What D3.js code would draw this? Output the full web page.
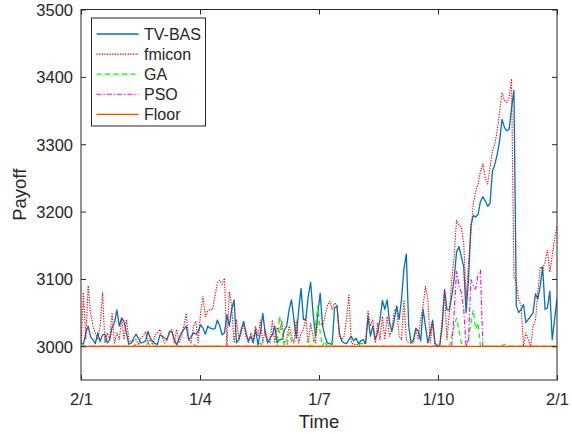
<!DOCTYPE html>
<html>
<head>
<meta charset="utf-8">
<script src="https://cdn.jsdelivr.net/npm/d3@7"></script>
<style>
  body { margin: 0; background: #fff; }
  svg text { font-family: "Liberation Sans", Arial, Helvetica, sans-serif; fill: #262626; }
</style>
</head>
<body>
<div id="chart"></div>
<script>
// daily payoff, one value per trading day (index 0..199)
var tvbas = [
3005,3003,3020,3030,3014,3010,3004,3020,3007,3017,
3018,3005,3010,3028,3035,3054,3030,3042,3037,3020,
3003,3005,3012,3018,3012,3005,3006,3008,3022,3012,
3007,3004,3003,3017,3015,3012,3010,3022,3022,3010,
3002,3012,3020,3025,3030,3010,3014,3020,3018,3022,
3032,3027,3018,3030,3027,3026,3026,3039,3030,3017,
3020,3047,3030,3055,3069,3005,3010,3025,3037,3020,
3008,3015,3005,3025,3002,3020,3049,3020,3005,3012,
3017,3030,3005,3010,3010,3024,3030,3054,3069,3040,
3012,3054,3086,3040,3040,3074,3095,3050,3015,3049,
3079,3030,3015,3005,3004,3003,3057,3060,3020,3008,
3005,3004,3010,3015,3008,3012,3004,3008,3010,3004,
3044,3015,3030,3010,3020,3040,3068,3055,3069,3035,
3022,3040,3060,3040,3070,3115,3137,3030,3005,3010,
3027,3022,3008,3055,3030,3005,3020,3039,3005,3000,
3002,3030,3084,3054,3054,3074,3100,3140,3148,3133,
3118,3050,3100,3180,3194,3192,3196,3215,3222,3216,
3208,3212,3260,3270,3285,3305,3337,3325,3320,3322,
3354,3380,3060,3050,3055,3062,3035,3040,3045,3050,
3078,3070,3090,3118,3055,3057,3082,3010,3040,3070
];
var fmicon = [
3000,3080,3010,3090,3050,3030,3020,3010,3030,3080,
3005,3020,3010,3050,3005,3020,3010,3042,3010,3040,
3010,3005,3008,3010,3002,3012,3015,3022,3005,3010,
3002,3017,3020,3025,3012,3005,3010,3020,3025,3005,
3025,3005,3015,3030,3049,3010,3005,3030,3037,3005,
3050,3074,3044,3052,3055,3054,3074,3094,3098,3092,
3101,3000,3081,3060,3005,3040,3010,3020,3034,3015,
3005,3020,3010,3030,3015,3039,3005,3025,3010,3005,
3039,3005,3028,3020,3037,3005,3010,3030,3015,3005,
3039,3005,3020,3025,3042,3005,3034,3015,3005,3037,
3035,3030,3045,3060,3067,3055,3064,3062,3015,3010,
3015,3040,3076,3005,3003,3002,3003,3005,3003,3005,
3052,3030,3040,3005,3035,3010,3044,3010,3044,3015,
3025,3054,3055,3015,3010,3069,3010,3005,3005,3005,
3025,3010,3040,3060,3089,3070,3005,3035,3000,3002,
3000,3040,3084,3010,3050,3099,3133,3187,3180,3177,
3153,3070,3123,3167,3212,3230,3241,3260,3271,3250,
3241,3265,3290,3300,3320,3347,3377,3365,3362,3369,
3397,3103,3095,3069,3060,3000,3020,3010,3000,3030,
3039,3080,3118,3115,3125,3143,3110,3135,3160,3177
];
var ga = [
3000,3000,3000,3000,3000,3000,3000,3000,3000,3000,
3000,3000,3000,3000,3000,3000,3000,3000,3000,3000,
3000,3000,3000,3003,3000,3000,3000,3000,3005,3000,
3000,3000,3000,3000,3000,3000,3000,3000,3000,3000,
3000,3000,3000,3000,3000,3000,3000,3004,3000,3000,
3000,3000,3000,3000,3000,3000,3000,3000,3000,3000,
3000,3000,3000,3000,3000,3000,3000,3000,3000,3000,
3000,3000,3000,3000,3000,3005,3000,3000,3000,3000,
3000,3000,3000,3045,3020,3000,3000,3020,3008,3000,
3000,3000,3000,3000,3000,3010,3000,3000,3030,3060,
3020,3000,3008,3000,3000,3008,3000,3000,3000,3000,
3000,3000,3000,3000,3000,3000,3000,3005,3000,3000,
3000,3000,3000,3000,3000,3000,3000,3000,3000,3000,
3000,3000,3000,3000,3000,3000,3000,3000,3000,3000,
3000,3000,3000,3000,3000,3000,3000,3000,3000,3000,
3000,3000,3000,3000,3000,3015,3030,3042,3025,3005,
3000,3000,3010,3035,3054,3025,3035,3000,3000,3000,
3000,3000,3000,3000,3000,3000,3000,3003,3000,3000,
3000,3000,3000,3000,3000,3000,3000,3000,3000,3000,
3000,3000,3000,3000,3000,3000,3000,3000,3000,3000
];
var pso = [
3000,3000,3000,3000,3000,3000,3000,3000,3000,3000,
3000,3000,3000,3000,3000,3000,3000,3000,3000,3000,
3000,3000,3000,3000,3000,3000,3000,3000,3000,3000,
3000,3000,3000,3000,3000,3000,3000,3000,3000,3000,
3000,3000,3000,3000,3000,3000,3000,3000,3000,3000,
3000,3000,3000,3000,3000,3000,3000,3000,3000,3000,
3000,3000,3000,3000,3000,3000,3000,3000,3000,3000,
3000,3000,3000,3000,3000,3000,3000,3000,3000,3000,
3000,3000,3000,3000,3000,3000,3000,3000,3000,3000,
3000,3000,3000,3000,3000,3000,3000,3000,3000,3000,
3000,3000,3000,3000,3000,3000,3000,3000,3000,3000,
3000,3000,3000,3000,3000,3000,3000,3000,3000,3000,
3000,3000,3000,3000,3000,3000,3000,3000,3000,3000,
3000,3000,3000,3000,3000,3000,3000,3000,3000,3000,
3000,3000,3000,3000,3000,3000,3000,3000,3000,3000,
3000,3000,3000,3000,3000,3000,3050,3111,3090,3080,
3055,3000,3010,3099,3090,3085,3106,3113,3000,3000,
3000,3000,3000,3000,3000,3000,3000,3000,3000,3000,
3000,3000,3000,3000,3000,3000,3000,3000,3000,3000,
3000,3000,3000,3000,3000,3000,3000,3000,3000,3000
];
// floor is flat over the whole period
var floorIdx = [0, 199];
var floorVals = [3000, 3000];

var xTickPos = [0, 49.75, 99.5, 149.25, 199];
var xTickLabels = ["2/1", "1/4", "1/7", "1/10", "2/1"];
var yTicks = [3000, 3100, 3200, 3300, 3400, 3500];
var seriesNames = ["TV-BAS", "fmicon", "GA", "PSO", "Floor"];

var width = 572, height = 434;
var margin = {top: 9.5, right: 15, bottom: 54, left: 81};
var w = width - margin.left - margin.right;
var h = height - margin.top - margin.bottom;

var svg = d3.select("#chart").append("svg")
    .attr("width", width)
    .attr("height", height);
svg.append("rect").attr("width", width).attr("height", height).attr("fill", "#fff");

var g = svg.append("g")
    .attr("transform", "translate(" + margin.left + "," + margin.top + ")");

var xscale = d3.scaleLinear().domain([0, 199]).range([0, w]);
var yscale = d3.scaleLinear().domain([2950, 3500]).range([h, 0]);

var styles = [
  {color: "#0072BD", width: 1.3, dash: null},
  {color: "#FF0000", width: 1.1, dash: "1.3,1.3"},
  {color: "#00FF00", width: 1.2, dash: "5,3.5"},
  {color: "#FF00FF", width: 1.1, dash: "5,2,1.3,2"},
  {color: "#D95319", width: 1.3, dash: null}
];

var line = d3.line()
    .x(function (d) { return xscale(d[0]); })
    .y(function (d) { return yscale(d[1]); });

var plotData = [tvbas, fmicon, ga, pso].map(function (arr) {
  return arr.map(function (v, i) { return [i, v]; });
});
plotData.push(floorIdx.map(function (x, i) { return [x, floorVals[i]]; }));

g.append("clipPath").attr("id", "clip")
  .append("rect").attr("width", w).attr("height", h);

g.append("g").attr("clip-path", "url(#clip)")
  .selectAll("path")
  .data(plotData)
  .enter()
  .append("path")
  .attr("d", line)
  .attr("fill", "none")
  .attr("stroke", function (d, i) { return styles[i].color; })
  .attr("stroke-width", function (d, i) { return styles[i].width; })
  .attr("stroke-dasharray", function (d, i) { return styles[i].dash; })
  .attr("stroke-linejoin", "round");

// axes, ticks pointing inward on all four sides
var axisColor = "#262626";
var yAxis = d3.axisLeft(yscale).tickValues(yTicks).tickSizeInner(-5).tickSizeOuter(0).tickPadding(8)
    .tickFormat(d3.format("d"));
var yAxisR = d3.axisRight(yscale).tickValues(yTicks).tickSizeInner(-5).tickSizeOuter(0).tickFormat("");
var xAxis = d3.axisBottom(xscale).tickValues(xTickPos).tickSizeInner(-5).tickSizeOuter(0).tickPadding(13)
    .tickFormat(function (d, i) { return xTickLabels[i]; });
var xAxisT = d3.axisTop(xscale).tickValues(xTickPos).tickSizeInner(-5).tickSizeOuter(0).tickFormat("");

var ay = g.append("g").call(yAxis);
g.append("g").attr("transform", "translate(" + w + ",0)").call(yAxisR);
var ax = g.append("g").attr("transform", "translate(0," + h + ")").call(xAxis);
g.append("g").call(xAxisT);

g.selectAll(".domain").remove();
g.selectAll(".tick line").attr("stroke", axisColor);
ay.selectAll("text").style("font-size", "16.5px").attr("fill", axisColor).attr("dy", "0.36em");
ax.selectAll("text").style("font-size", "16.5px").attr("fill", axisColor).attr("dy", "0.71em");

g.append("rect")
  .attr("width", w).attr("height", h)
  .attr("fill", "none")
  .attr("stroke", axisColor)
  .attr("stroke-width", 1);

svg.append("text")
  .attr("transform", "translate(26," + (margin.top + yscale(3225)) + ") rotate(-90)")
  .attr("text-anchor", "middle")
  .style("font-size", "18.5px")
  .text("Payoff");

svg.append("text")
  .attr("x", margin.left + xscale(99.5))
  .attr("y", 428)
  .attr("text-anchor", "middle")
  .style("font-size", "18.5px")
  .text("Time");

// legend
var leg = svg.append("g").attr("transform", "translate(91.5,18)");
leg.append("rect")
  .attr("width", 114).attr("height", 108)
  .attr("fill", "#fff")
  .attr("stroke", axisColor)
  .attr("stroke-width", 1);
var items = leg.selectAll("g.item")
  .data(seriesNames)
  .enter()
  .append("g")
  .attr("class", "item")
  .attr("transform", function (d, i) { return "translate(0," + (16 + i * 20.1) + ")"; });
items.append("line")
  .attr("x1", 5).attr("x2", 47)
  .attr("stroke", function (d, i) { return styles[i].color; })
  .attr("stroke-width", function (d, i) { return styles[i].width; })
  .attr("stroke-dasharray", function (d, i) { return styles[i].dash; });
items.append("text")
  .attr("x", 52.5)
  .attr("dy", "0.36em")
  .style("font-size", "16px")
  .text(function (d) { return d; });
</script>
</body>
</html>
